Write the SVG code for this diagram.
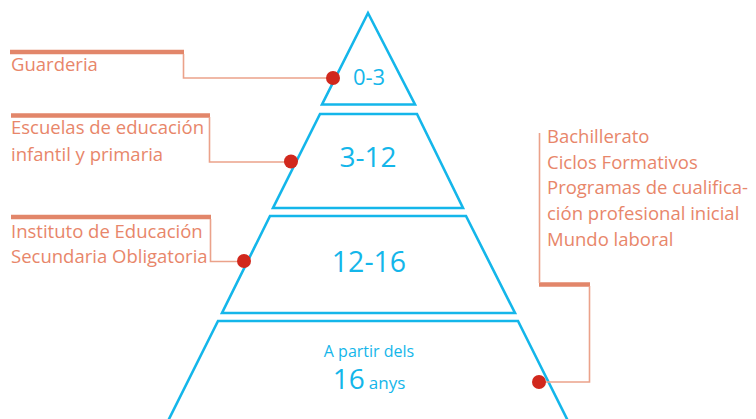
<svg xmlns="http://www.w3.org/2000/svg" width="756" height="419" viewBox="0 0 756 419">
<style>
.tier{fill:none;stroke:#14b6ea;stroke-width:2.6;stroke-linejoin:miter}
.num{font-family:"Open Sans","Liberation Sans",sans-serif;fill:#14b6ea;text-anchor:middle}
.lbl{font-family:"Open Sans","Liberation Sans",sans-serif;font-size:18.5px;fill:#e8866a}
.bar{stroke:#e2866a;stroke-width:4.5;fill:none}
.lead{stroke:#eba28a;stroke-width:1.6;fill:none}
.dot{fill:#d1281d}
</style>
<rect width="756" height="419" fill="#fff"/>
<g id="tier-0-3">
<polygon class="tier" points="368,13 322,104.5 415,104.5"/>
<text class="num" x="369" y="85" font-size="22">0-3</text>
</g>
<g id="tier-3-12">
<polygon class="tier" points="320,114 417,114 463,208 273,208"/>
<text class="num" x="368" y="167" font-size="28">3-12</text>
</g>
<g id="tier-12-16">
<polygon class="tier" points="270,216 466,216 515,313 222,313"/>
<text class="num" x="369" y="272" font-size="28.5">12-16</text>
</g>
<g id="tier-16">
<polyline class="tier" points="160,437 218,321 518,321 576,437"/>
<text class="num" x="369" y="357" font-size="16">A partir dels</text>
<text class="num" x="369" y="389"><tspan font-size="28">16</tspan><tspan font-size="17" dx="4">anys</tspan></text>
</g>
<g id="label-guarderia">
<line class="bar" x1="10" y1="52" x2="184" y2="52"/>
<text class="lbl" x="11" y="71">Guarderia</text>
</g>
<g id="label-escuelas">
<line class="bar" x1="11" y1="115.5" x2="210" y2="115.5"/>
<text class="lbl" x="11" y="134">Escuelas de educación</text>
<text class="lbl" x="11" y="161">infantil y primaria</text>
</g>
<g id="label-instituto">
<line class="bar" x1="11" y1="217" x2="211" y2="217"/>
<text class="lbl" x="11" y="238">Instituto de Educación</text>
<text class="lbl" x="11" y="263">Secundaria Obligatoria</text>
</g>
<g id="label-post16">
<line class="bar" x1="539" y1="284.5" x2="590" y2="284.5"/>
<text class="lbl" x="547" y="143">Bachillerato</text>
<text class="lbl" x="547" y="169">Ciclos Formativos</text>
<text class="lbl" x="547" y="194">Programas de cualifica-</text>
<text class="lbl" x="547" y="220">ción profesional inicial</text>
<text class="lbl" x="547" y="246">Mundo laboral</text>
</g>
<g id="connectors">
<polyline class="lead" points="183.5,54 183.5,78 333,78"/>
<polyline class="lead" points="209.5,117 209.5,162 291,162"/>
<polyline class="lead" points="210.5,219 210.5,261.5 244,261.5"/>
<polyline class="lead" points="539.5,133 539.5,283"/>
<polyline class="lead" points="589.5,286 589.5,382 539,382"/>
<circle class="dot" cx="333" cy="78" r="7"/>
<circle class="dot" cx="291" cy="161.5" r="7"/>
<circle class="dot" cx="244" cy="261" r="7"/>
<circle class="dot" cx="539" cy="382" r="7"/>
</g>
</svg>
